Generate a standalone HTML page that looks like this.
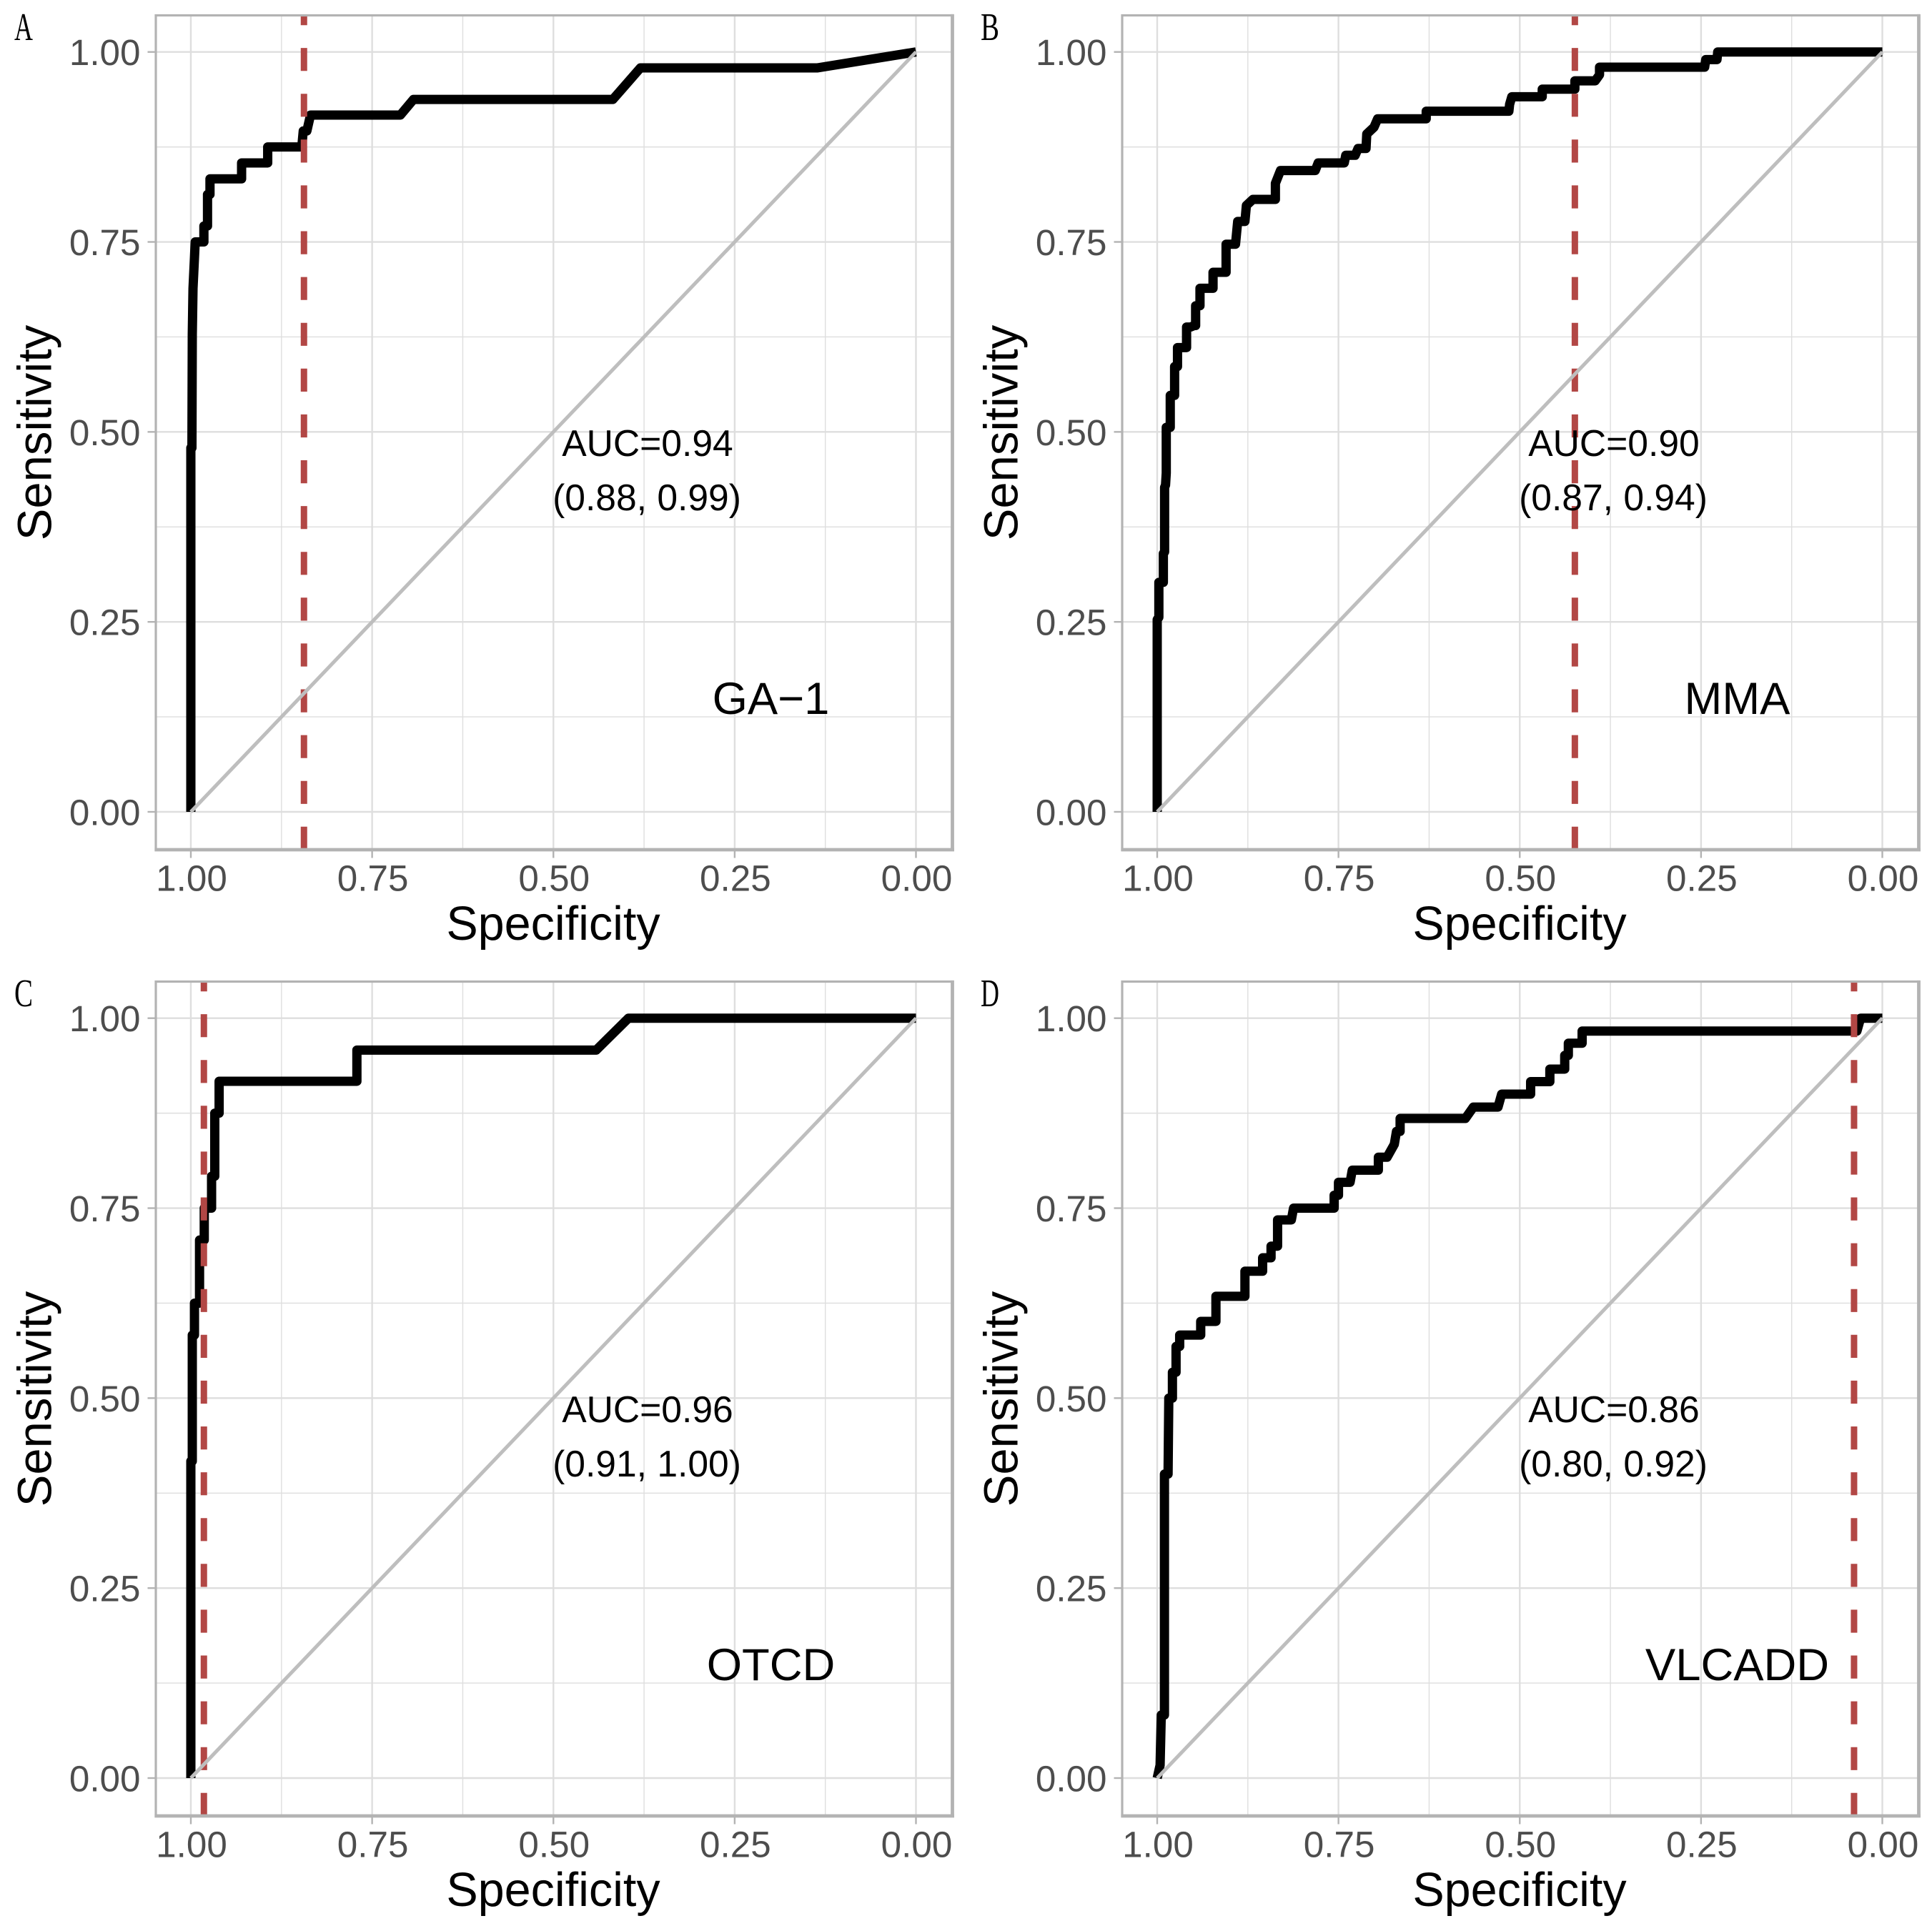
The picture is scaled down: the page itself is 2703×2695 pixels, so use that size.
<!DOCTYPE html>
<html lang="en">
<head>
<meta charset="utf-8">
<title>ROC curves for GA-1, MMA, OTCD and VLCADD</title>
<style>
html,body{margin:0;padding:0;background:#fff;}
svg{display:block;}
text{font-family:"Liberation Sans","Noto Sans CJK SC",sans-serif;}
</style>
</head>
<body>
<svg id="chart" xmlns="http://www.w3.org/2000/svg" width="2703" height="2695" viewBox="0 0 2703 2695"></svg>
<script>
const panelLetters = ['A', 'B', 'C', 'D'];
const panelNames = ['GA\u22121', 'MMA', 'OTCD', 'VLCADD'];
const aucLabels = ['AUC=0.94', 'AUC=0.90', 'AUC=0.96', 'AUC=0.86'];
const ciLabels = ['(0.88, 0.99)', '(0.87, 0.94)', '(0.91, 1.00)', '(0.80, 0.92)'];
const cutoffs = [0.844, 0.424, 0.982, 0.039];

const majorValues = [1, 0.75, 0.5, 0.25, 0];
const tickLabels = ['1.00', '0.75', '0.50', '0.25', '0.00'];
const minorValues = [0.875, 0.625, 0.375, 0.125];

const gaSpecificity = [1, 1, 0.9985, 0.998, 0.997, 0.995, 0.994, 0.982, 0.982, 0.977, 0.977, 0.9736, 0.9736, 0.93, 0.93, 0.894, 0.894, 0.847, 0.845, 0.84, 0.835, 0.711, 0.693, 0.418, 0.38, 0.1365, 0];
const gaSensitivity = [0, 0.479, 0.479, 0.628, 0.689, 0.729, 0.75, 0.75, 0.771, 0.771, 0.8125, 0.8125, 0.833, 0.833, 0.854, 0.854, 0.875, 0.875, 0.896, 0.896, 0.917, 0.917, 0.9375, 0.9375, 0.979, 0.979, 1];

const mmaSpecificity = [1, 1, 0.9977, 0.9977, 0.9915, 0.9915, 0.9898, 0.9898, 0.9885, 0.9875, 0.9875, 0.982, 0.982, 0.976, 0.976, 0.972, 0.972, 0.9595, 0.9595, 0.954, 0.949, 0.947, 0.947, 0.941, 0.941, 0.923, 0.923, 0.905, 0.905, 0.892, 0.889, 0.879, 0.877, 0.868, 0.837, 0.837, 0.83, 0.782, 0.778, 0.742, 0.74, 0.727, 0.723, 0.712, 0.711, 0.701, 0.696, 0.629, 0.629, 0.515, 0.514, 0.511, 0.469, 0.469, 0.424, 0.424, 0.396, 0.39, 0.39, 0.245, 0.2435, 0.228, 0.227, 0];
const mmaSensitivity = [0, 0.253, 0.256, 0.302, 0.302, 0.34, 0.342, 0.427, 0.43, 0.446, 0.506, 0.506, 0.548, 0.548, 0.586, 0.586, 0.611, 0.611, 0.638, 0.638, 0.64, 0.64, 0.666, 0.666, 0.689, 0.689, 0.71, 0.71, 0.747, 0.747, 0.777, 0.777, 0.798, 0.806, 0.806, 0.827, 0.844, 0.844, 0.854, 0.854, 0.864, 0.864, 0.873, 0.873, 0.892, 0.901, 0.912, 0.912, 0.922, 0.922, 0.931, 0.941, 0.941, 0.951, 0.951, 0.962, 0.962, 0.97, 0.98, 0.98, 0.99, 0.99, 1, 1];

const otcdSpecificity = [1, 1, 0.998, 0.998, 0.995, 0.995, 0.988, 0.988, 0.9815, 0.9815, 0.9714, 0.9714, 0.967, 0.967, 0.961, 0.961, 0.771, 0.771, 0.441, 0.3965, 0];
const otcdSensitivity = [0, 0.417, 0.417, 0.583, 0.583, 0.625, 0.625, 0.708, 0.708, 0.75, 0.75, 0.792, 0.792, 0.875, 0.875, 0.917, 0.917, 0.958, 0.958, 1, 1];

const vlcaddSpecificity = [1, 0.996, 0.9944, 0.99, 0.99, 0.985, 0.984, 0.979, 0.979, 0.974, 0.974, 0.969, 0.969, 0.94, 0.94, 0.919, 0.919, 0.879, 0.879, 0.8546, 0.8546, 0.843, 0.843, 0.834, 0.834, 0.815, 0.812, 0.756, 0.756, 0.75, 0.75, 0.734, 0.731, 0.695, 0.695, 0.683, 0.673, 0.67, 0.665, 0.665, 0.575, 0.564, 0.53, 0.525, 0.485, 0.485, 0.4585, 0.4585, 0.438, 0.438, 0.433, 0.433, 0.414, 0.414, 0.035, 0.03, 0];
const vlcaddSensitivity = [0, 0.017, 0.083, 0.083, 0.4, 0.4, 0.5, 0.5, 0.534, 0.534, 0.568, 0.568, 0.583, 0.583, 0.601, 0.601, 0.634, 0.634, 0.667, 0.667, 0.6846, 0.6846, 0.7, 0.7, 0.7345, 0.7345, 0.75, 0.75, 0.767, 0.767, 0.784, 0.784, 0.8, 0.8, 0.817, 0.817, 0.834, 0.851, 0.851, 0.868, 0.868, 0.883, 0.883, 0.9, 0.9, 0.9165, 0.9165, 0.933, 0.933, 0.951, 0.951, 0.967, 0.967, 0.983, 0.983, 1, 1];

const curveSpecificity = [gaSpecificity, mmaSpecificity, otcdSpecificity, vlcaddSpecificity];
const curveSensitivity = [gaSensitivity, mmaSensitivity, otcdSensitivity, vlcaddSensitivity];

const svgNS = 'http://www.w3.org/2000/svg';
const root = document.getElementById('chart');

function mk(tag, attrs, parent, content) {
  const el = document.createElementNS(svgNS, tag);
  for (const key in attrs) el.setAttribute(key, attrs[key]);
  if (content !== undefined) el.textContent = content;
  parent.appendChild(el);
  return el;
}

for (let p = 0; p < 4; p++) {
  const dx = (p % 2) * 1352;
  const dy = Math.floor(p / 2) * 1352;
  const left = 218 + dx, right = 1332.5 + dx, top = 21.5 + dy, bottom = 1189 + dy;
  const sx = v => 267 + dx + (1 - v) * 1014.5;
  const sy = v => 1136 + dy - v * 1063.3;
  const slug = panelNames[p].replace('\u2212', '').toLowerCase();

  const g = mk('g', {}, root);
  
  

  for (const v of minorValues) {
    const gx = mk('line', {x1: sx(v), x2: sx(v), y1: top, y2: bottom, stroke: '#dedede', 'stroke-width': 1.4}, g);
    
    
    const gy = mk('line', {x1: left, x2: right, y1: sy(v), y2: sy(v), stroke: '#dedede', 'stroke-width': 1.4}, g);
    
    
  }
  majorValues.forEach((v, i) => {
    const gx = mk('line', {x1: sx(v), x2: sx(v), y1: top, y2: bottom, stroke: '#dedede', 'stroke-width': 2.4}, g);
    
    
    const gy = mk('line', {x1: left, x2: right, y1: sy(v), y2: sy(v), stroke: '#dedede', 'stroke-width': 2.4}, g);
    
    
    const tx = mk('line', {x1: sx(v), x2: sx(v), y1: bottom, y2: bottom + 11.5, stroke: '#b3b3b3', 'stroke-width': 2.4}, g);
    
    
    const ty = mk('line', {x1: left - 11.5, x2: left, y1: sy(v), y2: sy(v), stroke: '#b3b3b3', 'stroke-width': 2.4}, g);
    
    
    const lx = mk('text', {x: sx(v) + 1, y: bottom + 57.5, 'text-anchor': 'middle', 'font-size': 51.2, fill: '#4d4d4d'}, g, tickLabels[i]);
    
    
    const ly = mk('text', {x: left - 21.5, y: sy(v) + 18.5, 'text-anchor': 'end', 'font-size': 51.2, fill: '#4d4d4d'}, g, tickLabels[i]);
    
    
  });

  const xs = curveSpecificity[p];
  const ys = curveSensitivity[p];
  const pts = xs.map((v, i) => sx(v).toFixed(2) + ',' + sy(ys[i]).toFixed(2)).join(' ');
  const curve = mk('polyline', {points: pts, fill: 'none', stroke: '#000', 'stroke-width': 13, 'stroke-linejoin': 'round', 'stroke-linecap': 'butt'}, g);
  
  

  const cut = mk('line', {x1: sx(cutoffs[p]), x2: sx(cutoffs[p]), y1: bottom, y2: top, stroke: '#b24745', 'stroke-width': 9, 'stroke-dasharray': '32.2 31.9'}, g);
  
  

  const diag = mk('line', {x1: sx(1), y1: sy(0), x2: sx(0), y2: sy(1), stroke: '#bebebe', 'stroke-width': 5}, g);
  
  

  const frame = mk('rect', {x: left, y: top, width: right - left, height: bottom - top, fill: 'none', stroke: '#b3b3b3', 'stroke-width': 3.2}, g);
  
  
  const frameBottom = mk('line', {x1: left - 1.6, x2: right + 2.5, y1: bottom, y2: bottom, stroke: '#b3b3b3', 'stroke-width': 4.8}, g);
  
  
  const frameRight = mk('line', {x1: right, x2: right, y1: top - 1.6, y2: bottom, stroke: '#b3b3b3', 'stroke-width': 4.8}, g);
  
  

  const auc = mk('text', {x: 906 + dx, y: 638 + dy, 'text-anchor': 'middle', 'font-size': 51.6, fill: '#000'}, g, aucLabels[p]);
  
  
  const ci = mk('text', {x: 905 + dx, y: 714 + dy, 'text-anchor': 'middle', 'font-size': 51.6, fill: '#000'}, g, ciLabels[p]);
  
  
  const nm = mk('text', {x: 1078.5 + dx, y: 999 + dy, 'text-anchor': 'middle', 'font-size': 63.4, fill: '#000'}, g, panelNames[p]);
  
  

  const xt = mk('text', {x: 774 + dx, y: 1315 + dy, 'text-anchor': 'middle', 'font-size': 66.5, fill: '#000'}, g, 'Specificity');
  
  
  const yt = mk('text', {x: 0, y: 0, transform: 'translate(' + (71.5 + dx) + ' ' + (605.5 + dy) + ') rotate(-90)', 'text-anchor': 'middle', 'font-size': 67, fill: '#000'}, g, 'Sensitivity');
  
  

  const tag = mk('text', {x: 20 + dx, y: 55.8 + dy, 'font-size': 55, fill: '#000', textLength: 26, lengthAdjust: 'spacingAndGlyphs', style: 'font-family:"Liberation Serif","Noto Serif CJK SC",serif'}, g, panelLetters[p]);
  
  
}
</script>
</body>
</html>
